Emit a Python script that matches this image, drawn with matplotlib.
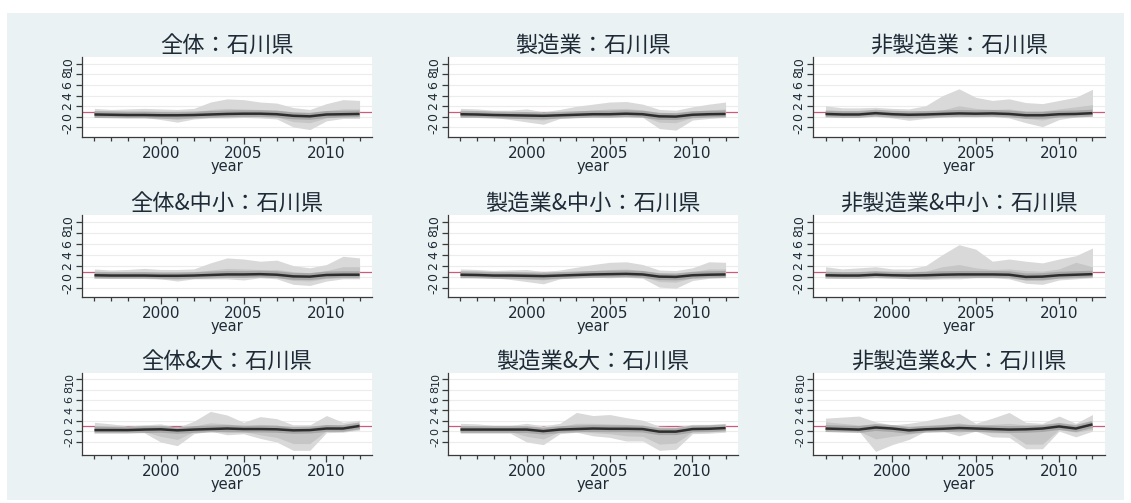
import matplotlib.pyplot as plt
from matplotlib.patches import Rectangle
from matplotlib.ticker import FixedLocator

plt.rcParams['font.family'] = ['DejaVu Sans', 'Noto Sans CJK JP']

years = [1996, 1997, 1998, 1999, 2000, 2001, 2002, 2003, 2004,
         2005, 2006, 2007, 2008, 2009, 2010, 2011, 2012]

# 全体
all_mid = [0.45, 0.4, 0.35, 0.35, 0.3, 0.3, 0.35, 0.45, 0.55, 0.6, 0.6, 0.5, 0.2, 0.1, 0.45, 0.5, 0.55]
all_hi = [1.6, 1.4, 1.5, 1.6, 1.5, 1.4, 1.6, 2.8, 3.4, 3.25, 2.8, 2.6, 1.75, 1.4, 2.5, 3.25, 3.1]
all_lo = [-0.1, -0.1, -0.1, -0.1, -0.5, -1.0, -0.4, -0.2, -0.2, -0.1, -0.2, -0.4, -1.9, -2.4, -0.75, -0.3, -0.3]
all_in_hi = [1.0, 0.9, 0.9, 1.0, 0.9, 0.8, 0.9, 1.4, 1.6, 1.5, 1.4, 1.3, 0.9, 0.8, 1.2, 1.5, 1.5]
all_in_lo = [0.1, 0.1, 0.0, 0.0, -0.2, -0.5, -0.1, 0.1, 0.1, 0.2, 0.2, 0.0, -0.9, -1.1, -0.2, 0.1, 0.1]

# 製造業
mfg_mid = [0.5, 0.45, 0.35, 0.3, 0.25, 0.2, 0.3, 0.4, 0.5, 0.5, 0.6, 0.5, 0.1, 0.05, 0.4, 0.5, 0.55]
mfg_hi = [1.6, 1.5, 1.25, 1.25, 1.5, 0.95, 1.4, 2.0, 2.4, 2.8, 2.9, 2.4, 1.4, 1.25, 1.9, 2.4, 2.8]
mfg_lo = [-0.1, 0.0, -0.1, -0.5, -0.95, -1.4, -0.3, -0.1, 0.0, -0.1, 0.0, -0.1, -2.2, -2.5, -0.6, -0.3, -0.1]
mfg_in_hi = [1.0, 0.9, 0.8, 0.8, 0.9, 0.6, 0.8, 1.1, 1.3, 1.5, 1.6, 1.3, 0.8, 0.7, 1.1, 1.3, 1.5]
mfg_in_lo = [0.1, 0.1, 0.0, -0.2, -0.4, -0.6, 0.0, 0.1, 0.2, 0.2, 0.2, 0.1, -1.0, -1.1, -0.1, 0.1, 0.1]

# 非製造業
non_mid = [0.55, 0.45, 0.45, 0.7, 0.5, 0.4, 0.45, 0.55, 0.65, 0.6, 0.65, 0.55, 0.3, 0.3, 0.5, 0.55, 0.7]
non_hi = [2.1, 1.7, 1.7, 1.8, 1.6, 1.5, 2.1, 4.0, 5.3, 3.7, 3.1, 3.4, 2.7, 2.5, 3.1, 3.7, 5.2]
non_lo = [0.1, 0.1, 0.1, 0.1, -0.2, -0.65, -0.3, 0.0, 0.0, 0.1, 0.1, -0.2, -1.1, -1.85, -0.5, 0.0, 0.1]
non_in_hi = [1.2, 1.0, 1.0, 1.2, 0.9, 0.8, 1.0, 1.3, 2.1, 1.6, 1.4, 1.5, 1.1, 1.1, 1.5, 1.9, 2.3]
non_in_lo = [0.3, 0.3, 0.3, 0.4, 0.2, 0.0, 0.2, 0.3, 0.3, 0.3, 0.3, 0.2, -0.3, -0.6, 0.1, 0.3, 0.4]

# 全体&中小
all_sme_mid = [0.35, 0.3, 0.3, 0.3, 0.25, 0.25, 0.3, 0.4, 0.5, 0.5, 0.55, 0.45, 0.15, 0.1, 0.4, 0.45, 0.45]
all_sme_hi = [1.5, 1.3, 1.4, 1.6, 1.4, 1.4, 1.5, 2.6, 3.5, 3.3, 2.9, 3.1, 2.1, 1.7, 2.3, 3.8, 3.5]
all_sme_lo = [-0.1, -0.1, -0.1, -0.1, -0.3, -0.7, -0.3, -0.3, -0.3, -0.5, -0.1, -0.3, -1.3, -1.5, -0.7, -0.3, -0.3]
all_sme_in_hi = [0.9, 0.8, 0.8, 0.9, 0.8, 0.8, 0.9, 1.3, 1.6, 1.5, 1.4, 1.4, 1.0, 0.8, 1.2, 1.9, 1.9]
all_sme_in_lo = [0.0, 0.0, 0.0, 0.0, -0.1, -0.3, 0.0, 0.1, 0.1, 0.0, 0.2, 0.0, -0.6, -0.7, -0.2, 0.1, 0.1]

# 製造業&中小
mfg_sme_mid = [0.45, 0.4, 0.3, 0.3, 0.25, 0.2, 0.3, 0.4, 0.5, 0.55, 0.6, 0.5, 0.1, 0.05, 0.35, 0.45, 0.5]
mfg_sme_hi = [1.5, 1.4, 1.2, 1.3, 1.4, 1.0, 1.3, 1.8, 2.3, 2.7, 2.8, 2.3, 1.3, 1.2, 1.7, 2.8, 2.7]
mfg_sme_lo = [-0.1, 0.0, -0.1, -0.4, -0.8, -1.2, -0.3, -0.1, 0.0, -0.1, 0.0, -0.2, -1.8, -2.0, -0.6, -0.2, -0.1]
mfg_sme_in_hi = [0.9, 0.9, 0.8, 0.8, 0.8, 0.6, 0.8, 1.0, 1.2, 1.4, 1.5, 1.2, 0.7, 0.6, 1.0, 1.5, 1.5]
mfg_sme_in_lo = [0.1, 0.1, 0.0, -0.1, -0.3, -0.5, 0.0, 0.1, 0.2, 0.2, 0.2, 0.1, -0.8, -0.9, -0.1, 0.1, 0.1]

# 非製造業&中小
non_sme_mid = [0.35, 0.3, 0.3, 0.45, 0.35, 0.3, 0.35, 0.45, 0.5, 0.5, 0.5, 0.45, 0.05, 0.1, 0.35, 0.45, 0.55]
non_sme_hi = [1.9, 1.5, 1.7, 1.9, 1.5, 1.5, 2.1, 4.1, 5.9, 5.1, 2.9, 3.3, 2.9, 2.6, 3.3, 3.9, 5.3]
non_sme_lo = [0.05, 0.05, 0.05, 0.05, 0.0, -0.3, -0.4, -0.3, -0.3, -0.1, -0.1, -0.3, -1.1, -1.3, -0.5, -0.3, -0.1]
non_sme_in_hi = [1.1, 0.9, 1.0, 1.1, 0.9, 0.9, 1.1, 1.9, 2.3, 1.7, 1.4, 1.5, 1.2, 1.1, 1.5, 2.7, 1.9]
non_sme_in_lo = [0.2, 0.2, 0.2, 0.3, 0.2, 0.1, 0.0, 0.1, 0.1, 0.2, 0.2, 0.1, -0.5, -0.6, -0.1, 0.1, 0.2]

# 全体&大
all_lg_mid = [0.2, 0.2, 0.2, 0.3, 0.35, 0.15, 0.3, 0.4, 0.5, 0.4, 0.4, 0.35, 0.15, 0.2, 0.5, 0.5, 1.0]
all_lg_hi = [1.7, 1.4, 1.0, 1.2, 1.4, 0.7, 1.9, 3.8, 3.1, 1.7, 2.8, 2.4, 1.2, 1.2, 3.0, 1.7, 2.1]
all_lg_lo = [-0.2, -0.2, -0.2, -0.3, -2.1, -2.8, -0.5, 0.0, -0.7, -0.5, -1.4, -2.1, -3.7, -3.7, -0.3, -0.2, 0.2]
all_lg_in_hi = [1.1, 0.9, 0.7, 0.8, 0.9, 0.5, 1.0, 1.6, 1.4, 1.0, 1.3, 1.2, 0.6, 0.6, 1.3, 1.0, 1.5]
all_lg_in_lo = [0.0, 0.0, 0.0, -0.1, -1.0, -1.6, -0.1, 0.2, -0.3, -0.1, -0.7, -1.2, -2.4, -2.4, 0.1, 0.1, 0.5]

# 製造業&大
mfg_lg_mid = [0.3, 0.3, 0.3, 0.3, 0.3, 0.0, 0.3, 0.4, 0.5, 0.45, 0.45, 0.4, -0.1, -0.1, 0.4, 0.45, 0.6]
mfg_lg_hi = [1.5, 1.4, 1.1, 1.1, 1.5, 1.0, 1.5, 3.6, 3.0, 3.2, 2.6, 2.1, 0.95, 0.85, 1.3, 1.3, 1.5]
mfg_lg_lo = [-0.4, -0.4, -0.4, -0.4, -2.1, -2.6, -0.5, -0.2, -0.9, -1.2, -1.9, -1.9, -3.7, -3.5, -0.5, -0.4, -0.2]
mfg_lg_in_hi = [1.0, 0.9, 0.7, 0.7, 0.9, 0.6, 0.9, 1.5, 1.5, 1.4, 1.3, 1.1, 0.5, 0.5, 0.8, 0.8, 1.0]
mfg_lg_in_lo = [-0.1, -0.1, -0.1, -0.1, -1.0, -1.5, -0.1, 0.1, -0.3, -0.5, -0.9, -1.0, -2.5, -2.3, -0.1, 0.0, 0.2]

# 非製造業&大
non_lg_mid = [0.5, 0.4, 0.3, 0.7, 0.5, 0.15, 0.35, 0.45, 0.6, 0.5, 0.4, 0.3, 0.35, 0.5, 0.9, 0.5, 1.3]
non_lg_hi = [2.5, 2.7, 2.9, 1.8, 1.2, 1.5, 2.0, 2.7, 3.4, 1.5, 2.5, 3.6, 1.7, 1.5, 2.9, 1.5, 3.2]
non_lg_lo = [0.0, 0.0, 0.0, -3.9, -2.6, -1.6, 0.0, 0.0, -0.9, 0.0, -1.1, -1.2, -3.4, -3.4, 0.0, -1.1, 0.0]
non_lg_in_hi = [1.8, 1.5, 1.2, 1.2, 1.0, 0.8, 1.0, 1.3, 1.6, 1.0, 1.3, 1.5, 1.2, 1.1, 1.6, 1.0, 2.0]
non_lg_in_lo = [0.1, 0.1, 0.0, -1.5, -1.0, -0.6, 0.1, 0.1, -0.2, 0.1, -0.3, -0.4, -2.5, -2.5, 0.3, -0.2, 0.3]

titles = ['全体：石川県', '製造業：石川県', '非製造業：石川県',
          '全体&中小：石川県', '製造業&中小：石川県', '非製造業&中小：石川県',
          '全体&大：石川県', '製造業&大：石川県', '非製造業&大：石川県']

panels = [
    (all_mid, all_lo, all_hi, all_in_lo, all_in_hi),
    (mfg_mid, mfg_lo, mfg_hi, mfg_in_lo, mfg_in_hi),
    (non_mid, non_lo, non_hi, non_in_lo, non_in_hi),
    (all_sme_mid, all_sme_lo, all_sme_hi, all_sme_in_lo, all_sme_in_hi),
    (mfg_sme_mid, mfg_sme_lo, mfg_sme_hi, mfg_sme_in_lo, mfg_sme_in_hi),
    (non_sme_mid, non_sme_lo, non_sme_hi, non_sme_in_lo, non_sme_in_hi),
    (all_lg_mid, all_lg_lo, all_lg_hi, all_lg_in_lo, all_lg_in_hi),
    (mfg_lg_mid, mfg_lg_lo, mfg_lg_hi, mfg_lg_in_lo, mfg_lg_in_hi),
    (non_lg_mid, non_lg_lo, non_lg_hi, non_lg_in_lo, non_lg_in_hi),
]

y_ticks = [-2, 0, 2, 4, 6, 8, 10]
y_tick_labels = ['-2', '0', '2', '4', '6', '8', '10']
x_ticks = [2000, 2005, 2010]
ref_level = 1.0

W, H = 1131, 503
fig = plt.figure(figsize=(W / 100, H / 100), dpi=100, facecolor='white')
fig.patches.append(Rectangle((7 / W, 3 / H), 1117 / W, 487 / H,
                             transform=fig.transFigure, facecolor='#eaf2f3',
                             edgecolor='none', zorder=-10))

col_left = [82, 448, 813]
col_width = [290, 290, 292]
row_top = [57, 215, 373]
row_bottom = [137, 297, 455]
row_ylim = [(-3.8, 11.3), (-3.6, 11.3), (-4.6, 11.2)]
row_ylabel_size = [9, 9, 8]

text_color = '#1e2a36'
axis_color = '#3a3a3a'

for i, (title, (mid, lo, hi, in_lo, in_hi)) in enumerate(zip(titles, panels)):
    r, c = divmod(i, 3)
    left = col_left[c] / W
    bottom = 1 - row_bottom[r] / H
    ax = fig.add_axes([left, bottom, col_width[c] / W, (row_bottom[r] - row_top[r]) / H])
    ax.set_facecolor('white')

    ax.axhline(ref_level, color='#cc5a78', lw=0.9, zorder=1.5)
    ax.fill_between(years, lo, hi, color='#d9d9d9', lw=0, zorder=2)
    ax.fill_between(years, in_lo, in_hi, color='#c6c6c6', lw=0, zorder=3)
    ax.plot(years, mid, color='#8f8f8f', lw=5, alpha=0.55, solid_capstyle='butt', zorder=4)
    ax.plot(years, mid, color='#2e2e2e', lw=1.8, solid_capstyle='butt', zorder=5)

    ax.set_xlim(1995.25, 2012.75)
    ax.set_ylim(*row_ylim[r])

    ax.set_yticks(y_ticks)
    ax.set_yticklabels(y_tick_labels, rotation=90, va='center',
                       fontsize=row_ylabel_size[r], color=text_color)
    ax.set_xticks(x_ticks)
    ax.set_xticklabels([str(x) for x in x_ticks], fontsize=11, color=text_color)
    ax.xaxis.set_minor_locator(FixedLocator(years))

    ax.tick_params(axis='y', length=4, width=0.9, color=axis_color, pad=1.5)
    ax.tick_params(axis='x', which='major', length=5, width=0.9, color=axis_color, pad=1.5)
    ax.tick_params(axis='x', which='minor', length=3, width=0.9, color=axis_color)

    ax.grid(axis='y', color='#ececec', lw=0.8)
    ax.set_axisbelow(True)

    for side in ('top', 'right'):
        ax.spines[side].set_visible(False)
    for side in ('left', 'bottom'):
        ax.spines[side].set_color(axis_color)
        ax.spines[side].set_linewidth(0.9)

    ax.set_xlabel('year', fontsize=10.5, labelpad=-1.5, color=text_color)
    ax.set_title(title, fontsize=16, pad=2, color=text_color,
                 family=['Noto Sans CJK JP', 'DejaVu Sans'])

fig.savefig('out.png', dpi=100, facecolor='white')
